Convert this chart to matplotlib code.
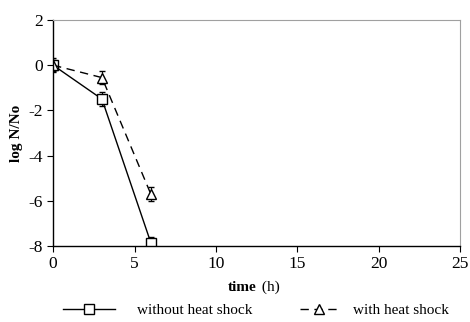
import matplotlib.pyplot as plt
from matplotlib.lines import Line2D
from matplotlib.ticker import FuncFormatter

# data
time_h = [0, 3, 6]
without_shock = [0.0, -1.5, -7.85]
without_err = [0.25, 0.3, 0.25]
with_shock = [0.0, -0.55, -5.7]
with_err = [0.3, 0.3, 0.3]

plt.rcParams['font.family'] = ['Liberation Serif', 'DejaVu Serif']
plt.rcParams['font.size'] = 11

fig = plt.figure(figsize=[4.7, 3.22], dpi=100)
ax = fig.add_axes([0.113, 0.236, 0.866, 0.702])

style1 = dict(color="black", lw=1.0, marker="s", ms=6.5, mfc="white", mec="black", mew=1.0)
style2 = dict(color="black", lw=1.0, ls=(0, (6, 4)), marker="^", ms=6.5, mfc="white",
              mec="black", mew=1.0)

ax.errorbar(time_h, without_shock, yerr=without_err, capsize=2, elinewidth=0.8, **style1)
ax.errorbar(time_h, with_shock, yerr=with_err, capsize=2, elinewidth=0.8, **style2)

ax.set_xlim(0, 25)
ax.set_ylim(-8, 2)
ax.set_xticks([0, 5, 10, 15, 20, 25])
ax.set_yticks([-8, -6, -4, -2, 0, 2])
ax.yaxis.set_major_formatter(FuncFormatter(lambda v, p: "%d" % v if v >= 0 else "-%d" % abs(v)))
ax.tick_params(direction="out", length=4, width=0.8, labelsize=12.5)

# 枠線
ax.spines["top"].set_color("#a0a0a0")
ax.spines["right"].set_color("#a0a0a0")
ax.spines["left"].set_linewidth(1.0)
ax.spines["bottom"].set_linewidth(1.0)

ax.set_ylabel("log N/No", fontweight="bold", fontsize=11, labelpad=4)
fig.text(0.545, 0.108, "time", fontweight="bold", fontsize=11, ha="right", va="center")
fig.text(0.548, 0.108, " (h)", fontsize=11, ha="left", va="center")

# 凡例 (2つに分けて配置)
fig.legend([Line2D([], [], **style1)], ["without heat shock"], loc="center left",
           bbox_to_anchor=(0.135, 0.037), frameon=False, fontsize=11,
           handlelength=3.4, handletextpad=1.4, borderpad=0, borderaxespad=0)
fig.legend([Line2D([], [], **style2)], ["with heat shock"], loc="center left",
           bbox_to_anchor=(0.638, 0.037), frameon=False, fontsize=11,
           handlelength=2.5, handletextpad=1.0, borderpad=0, borderaxespad=0)

plt.savefig("out.png", dpi=100)
